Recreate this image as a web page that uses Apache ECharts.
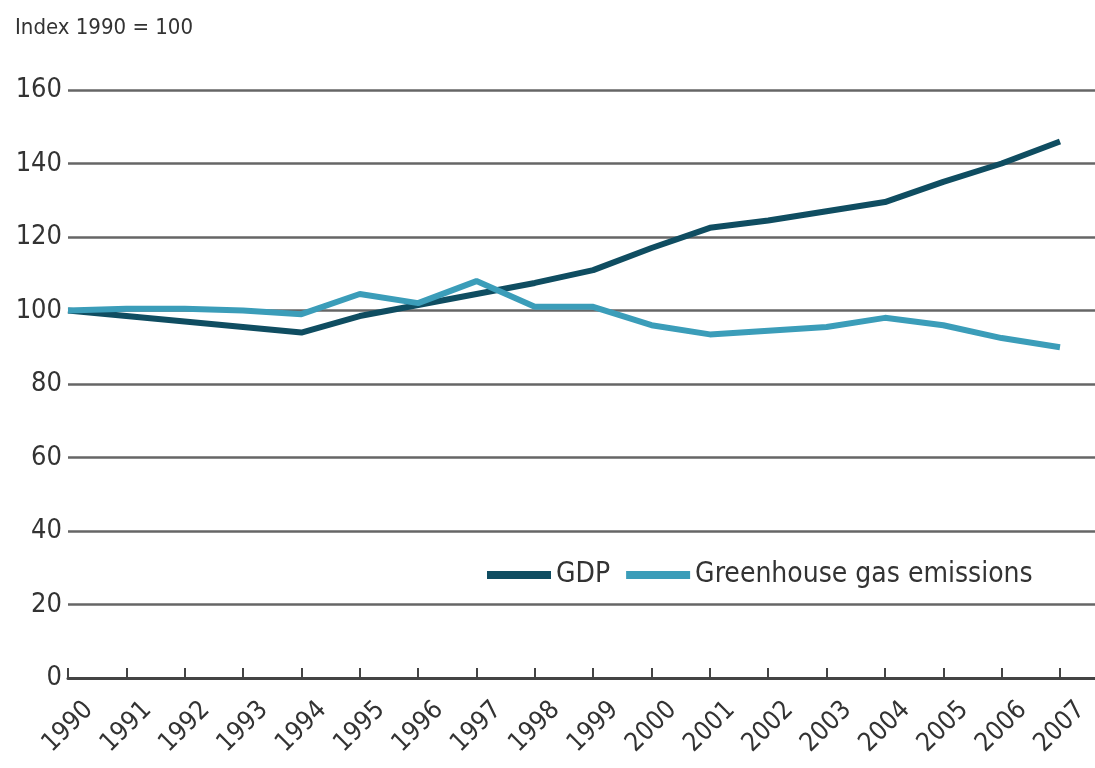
<!DOCTYPE html>
<html>
<head>
<meta charset="utf-8">
<script src="https://cdn.jsdelivr.net/npm/echarts@6/dist/echarts.min.js"></script>
<style>
html,body{margin:0;padding:0;background:#fff;}
#chart{width:1095px;height:768px;}
</style>
</head>
<body>
<div id="chart"></div>
<script>
const years = [1990,1991,1992,1993,1994,1995,1996,1997,1998,1999,2000,2001,2002,2003,2004,2005,2006,2007];
const gdp = [100, 98.5, 97, 95.5, 94, 98.5, 101.5, 104.5, 107.5, 111, 117, 122.5, 124.5, 127, 129.5, 135, 140, 146];
const emissions = [100, 100.5, 100.5, 100, 99, 104.5, 102, 108, 101, 101, 96, 93.5, 94.5, 95.5, 98, 96, 92.5, 90];
const yTicks = [0, 20, 40, 60, 80, 100, 120, 140, 160];

const FONT = '"Liberation Sans Narrow", "DejaVu Sans Condensed", "Roboto", sans-serif';
const chart = echarts.init(document.getElementById('chart'));
chart.setOption({
  backgroundColor: '#ffffff',
  animation: false,
  title: {
    text: 'Index 1990 = 100',
    left: 10, top: 12,
    textStyle: {fontFamily: FONT, fontSize: 22, fontWeight: 'normal', color: '#333'}
  },
  legend: {
    left: 482, top: 556,
    icon: 'rect',
    itemWidth: 64, itemHeight: 8, itemGap: 16,
    textStyle: {fontFamily: FONT, fontSize: 28, color: '#333'},
    data: ['GDP', 'Greenhouse gas emissions']
  },
  grid: {left: 68, right: 0, top: 90, bottom: 90, containLabel: false, outerBoundsMode: 'none'},
  xAxis: {
    type: 'value',
    min: 1990, max: 2007.6, interval: 1,
    axisLine: {lineStyle: {color: '#444', width: 3}},
    axisTick: {inside: true, length: 10, customValues: years, lineStyle: {color: '#444', width: 2}},
    axisLabel: {
      customValues: years,
      rotate: 45, align: 'center', verticalAlign: 'middle', margin: 49,
      fontFamily: FONT, fontSize: 26, color: '#333',
      formatter: v => String(v)
    },
    splitLine: {show: false}
  },
  yAxis: {
    type: 'value',
    min: 0, max: 160, interval: 20,
    axisLine: {show: false},
    axisTick: {show: false},
    axisLabel: {
      fontFamily: FONT, fontSize: 27, color: '#333', margin: 6,
      formatter: v => yTicks.includes(v) ? String(v) : ''
    },
    splitLine: {lineStyle: {color: '#666', width: 2.5}}
  },
  series: [
    {
      name: 'GDP', type: 'line',
      data: years.map((y, i) => [y, gdp[i]]),
      symbol: 'none', z: 3,
      lineStyle: {color: '#0f4d61', width: 6},
      itemStyle: {color: '#0f4d61'}
    },
    {
      name: 'Greenhouse gas emissions', type: 'line',
      data: years.map((y, i) => [y, emissions[i]]),
      symbol: 'none', z: 4,
      lineStyle: {color: '#3b9db9', width: 6},
      itemStyle: {color: '#3b9db9'}
    }
  ]
});
</script>
</body>
</html>
